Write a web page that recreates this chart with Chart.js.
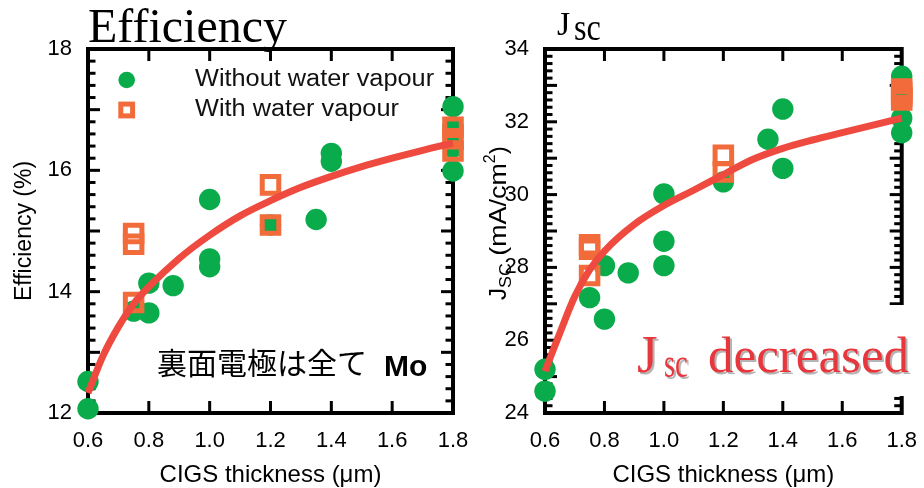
<!DOCTYPE html>
<html>
<head>
<meta charset="utf-8">
<title>CIGS thickness</title>
<script src="https://cdn.jsdelivr.net/npm/chart.js@4.4.0/dist/chart.umd.min.js"></script>
<style>
  html, body { margin: 0; padding: 0; background: #fff; }
  #wrap { position: relative; width: 924px; height: 488px; overflow: hidden; }
  canvas { position: absolute; top: 0; }
  #effChart { left: 0; }
  #jscChart { left: 462px; }
</style>
</head>
<body>
<div id="wrap">
  <canvas id="effChart" width="480" height="488"></canvas>
  <canvas id="jscChart" width="462" height="488"></canvas>
</div>
<script>
// Tick labels
const xTickValues = [0.6, 0.8, 1.0, 1.2, 1.4, 1.6, 1.8];
const effTickValues = [12, 14, 16, 18];
const jscTickValues = [24, 26, 28, 30, 32, 34];

// Efficiency, without water vapour
const effDryX = [0.6, 0.6, 0.75, 0.8, 0.8, 0.88, 1.0, 1.0, 1.0, 1.2, 1.35, 1.4, 1.4, 1.8, 1.8, 1.8, 1.8];
const effDryY = [12.52, 12.07, 13.68, 14.14, 13.65, 14.1, 15.52, 14.54, 14.41, 15.1, 15.19, 16.28, 16.15, 17.05, 16.72, 16.38, 15.99];
// Efficiency, with water vapour
const effWetX = [0.75, 0.75, 0.75, 1.2, 1.2, 1.8, 1.8, 1.8];
const effWetY = [14.96, 14.78, 13.82, 15.76, 15.1, 16.71, 16.52, 16.32];

// Jsc, without water vapour
const jscDryX = [0.6, 0.6, 0.75, 0.8, 0.8, 0.88, 1.0, 1.0, 1.0, 1.2, 1.35, 1.4, 1.4, 1.8, 1.8, 1.8, 1.8];
const jscDryY = [25.2, 24.6, 27.17, 28.05, 26.58, 27.85, 30.02, 28.72, 28.05, 30.35, 31.52, 32.35, 30.72, 33.25, 32.85, 32.1, 31.7];
// Jsc, with water vapour
const jscWetX = [0.75, 0.75, 0.75, 1.2, 1.2, 1.8, 1.8, 1.8, 1.8];
const jscWetY = [28.62, 28.5, 27.78, 31.08, 30.62, 32.9, 32.8, 32.7, 32.6];

// Fitted trend curves
const fitX = [0.6, 0.65, 0.7, 0.75, 0.8, 0.9, 1.0, 1.1, 1.2, 1.3, 1.4, 1.5, 1.6, 1.7, 1.8];
const effFitY = [12.33, 12.95, 13.42, 13.8, 14.08, 14.55, 14.93, 15.25, 15.5, 15.72, 15.9, 16.06, 16.2, 16.33, 16.45];
const jscFitY = [25.15, 26.2, 27.2, 27.93, 28.45, 29.18, 29.7, 30.12, 30.55, 30.97, 31.27, 31.5, 31.7, 31.9, 32.1];

const GREEN = '#0aab4b';
const ORANGE = '#f26b3a';
const RED = '#ee4a3f';
const SANS = '"Liberation Sans", Arial, sans-serif';
const SERIF = '"Liberation Serif", "Times New Roman", serif';

Chart.defaults.font.family = SANS;
Chart.defaults.color = '#000';

function pts(xs, ys) {
  return xs.map((x, i) => ({ x: x, y: ys[i] }));
}

// Box frame with inward ticks on all four sides
const frameTicks = {
  id: 'frameTicks',
  beforeDatasetsDraw(chart, args, opts) {
    const { ctx, chartArea: a } = chart;
    const xs = chart.scales.x, ys = chart.scales.y;
    const seg = (x1, y1, x2, y2) => { ctx.beginPath(); ctx.moveTo(x1, y1); ctx.lineTo(x2, y2); ctx.stroke(); };
    ctx.save();
    ctx.strokeStyle = '#000';
    ctx.lineWidth = 3;
    xTickValues.forEach(v => {
      if (v <= xs.min + 1e-9 || v >= xs.max - 1e-9) return;
      const px = xs.getPixelForValue(v);
      seg(px, a.bottom, px, a.bottom - 12);
      seg(px, a.top, px, a.top + 12);
    });
    const n = Math.round((ys.max - ys.min) / opts.minor);
    for (let i = 1; i < n; i++) {
      const v = ys.min + i * opts.minor;
      const len = Math.abs(v - Math.round(v)) < 1e-6 ? 12 : 7.5;
      const py = ys.getPixelForValue(v);
      seg(a.left, py, a.left + len, py);
      seg(a.right, py, a.right - len, py);
    }
    ctx.lineWidth = 4;
    ctx.strokeRect(a.left, a.top, a.right - a.left, a.bottom - a.top);
    ctx.restore();
  }
};

function xScale() {
  return {
    type: 'linear',
    min: 0.6,
    max: 1.8,
    afterBuildTicks: s => { s.ticks = xTickValues.map(v => ({ value: v })); },
    afterFit: s => { s.height = 75; },
    grid: { display: false },
    border: { display: false },
    ticks: { font: { size: 22 }, padding: 7, autoSkip: false, maxRotation: 0, callback: v => v.toFixed(1) },
    title: { display: true, text: 'CIGS thickness (\u03bcm)', font: { size: 24 }, padding: { top: 0, bottom: -2 } }
  };
}

function scatterSets(dryX, dryY, wetX, wetY, fitY) {
  return [
    {
      label: 'fit',
      data: pts(fitX, fitY),
      showLine: true,
      borderColor: RED,
      borderWidth: 7,
      pointRadius: 0,
      cubicInterpolationMode: 'monotone',
      clip: false,
      order: 0
    },
    {
      label: 'With water vapour',
      data: pts(wetX, wetY),
      pointStyle: 'rect',
      pointRadius: 11.7,
      borderWidth: 5,
      borderColor: ORANGE,
      backgroundColor: 'rgba(0,0,0,0)',
      clip: false,
      order: 1
    },
    {
      label: 'Without water vapour',
      data: pts(dryX, dryY),
      pointStyle: 'circle',
      pointRadius: 10.7,
      borderWidth: 0,
      backgroundColor: GREEN,
      clip: false,
      order: 2
    }
  ];
}

// text drawn a little wider than the font, like the original figure
function wideText(ctx, txt, x, y, sx) {
  ctx.save();
  ctx.translate(x, y);
  ctx.scale(sx, 1);
  ctx.fillText(txt, 0, 0);
  ctx.restore();
}

// Left chart: Efficiency
const effNotes = {
  id: 'effNotes',
  afterDraw(chart) {
    const ctx = chart.ctx;
    ctx.save();
    ctx.fillStyle = '#000';
    ctx.textBaseline = 'alphabetic';
    ctx.textAlign = 'left';
    ctx.font = '48px ' + SERIF;
    ctx.fillText('Efficiency', 88, 42);

    // legend
    ctx.fillStyle = GREEN;
    ctx.beginPath();
    ctx.arc(126.7, 80, 8.3, 0, Math.PI * 2);
    ctx.fill();
    ctx.strokeStyle = ORANGE;
    ctx.lineWidth = 5;
    ctx.strokeRect(126.7 - 5.9, 110 - 5.9, 11.8, 11.8);
    ctx.fillStyle = '#111';
    ctx.textBaseline = 'middle';
    ctx.font = '23px ' + SANS;
    wideText(ctx, 'Without water vapour', 195, 80, 1.1);
    wideText(ctx, 'With water vapour', 195, 110, 1.1);

    // note
    ctx.textBaseline = 'alphabetic';
    ctx.font = '30px "Noto Sans CJK JP", sans-serif';
    ctx.fillStyle = '#000';
    ctx.fillText('裏面電極は全て', 157, 374);
    ctx.font = 'bold 30px ' + SANS;
    ctx.fillText('Mo', 384, 376);
    ctx.restore();
  }
};

new Chart(document.getElementById('effChart'), {
  type: 'scatter',
  data: { datasets: scatterSets(effDryX, effDryY, effWetX, effWetY, effFitY) },
  options: {
    responsive: false,
    animation: false,
    events: [],
    layout: { padding: { top: 49, right: 27, left: 0, bottom: 0 } },
    plugins: { legend: { display: false }, tooltip: { enabled: false }, frameTicks: { minor: 0.2 } },
    scales: {
      x: xScale(),
      y: {
        type: 'linear',
        min: 12,
        max: 18,
        afterBuildTicks: s => { s.ticks = effTickValues.map(v => ({ value: v })); },
        afterFit: s => { s.width = 88; },
        grid: { display: false },
        border: { display: false },
        ticks: { font: { size: 22 }, padding: 8 },
        title: { display: true, text: 'Efficiency (%)', font: { size: 23 }, padding: { top: 11, bottom: 0 } }
      }
    }
  },
  plugins: [frameTicks, effNotes]
});

// Right chart: Jsc
function drawJsc(ctx, jx, jy, jSize, sx, sy, sSize, sScale) {
  ctx.font = jSize + 'px ' + SERIF;
  ctx.fillText('J', jx, jy);
  ctx.font = sSize + 'px ' + SERIF;
  wideText(ctx, 'sc', sx, sy, sScale);
}

const jscNotes = {
  id: 'jscNotes',
  afterDraw(chart) {
    const ctx = chart.ctx;
    ctx.save();
    ctx.textAlign = 'left';
    ctx.textBaseline = 'alphabetic';
    ctx.fillStyle = '#000';
    drawJsc(ctx, 95, 35, 34, 112, 40, 38, 0.85);

    // rotated axis title J_SC (mA/cm^2)
    ctx.save();
    ctx.translate(44, 300);
    ctx.rotate(-Math.PI / 2);
    let p = 0;
    const put = (txt, size, dy, sx) => {
      ctx.font = size + 'px ' + SANS;
      wideText(ctx, txt, p, dy, sx);
      p += ctx.measureText(txt).width * sx;
    };
    put('J', 24, 0, 1);
    put('SC', 17, 5, 1.05);
    put(' (mA/cm', 24, 0, 1.12);
    put('2', 16, -11, 1);
    put(')', 24, 0, 1);
    ctx.restore();

    // text box
    ctx.fillStyle = '#fff';
    ctx.fillRect(168, 305, 290, 91);
    const red = (dx, dy, col) => {
      ctx.fillStyle = col;
      drawJsc(ctx, 175 + dx, 372 + dy, 53, 202 + dx, 377 + dy, 42, 0.68);
      ctx.font = '51px ' + SERIF;
      ctx.fillText('decreased', 246 + dx, 372 + dy);
    };
    red(2, 2, '#b4b4b4');
    red(0, 0, '#e8363d');
    ctx.restore();
  }
};

new Chart(document.getElementById('jscChart'), {
  type: 'scatter',
  data: { datasets: scatterSets(jscDryX, jscDryY, jscWetX, jscWetY, jscFitY) },
  options: {
    responsive: false,
    animation: false,
    events: [],
    layout: { padding: { top: 49, right: 16, left: 0, bottom: 0 } },
    plugins: { legend: { display: false }, tooltip: { enabled: false }, frameTicks: { minor: 0.2 } },
    scales: {
      x: xScale(),
      y: {
        type: 'linear',
        min: 24,
        max: 34,
        afterBuildTicks: s => { s.ticks = jscTickValues.map(v => ({ value: v })); },
        afterFit: s => { s.width = 83; },
        grid: { display: false },
        border: { display: false },
        ticks: { font: { size: 22 }, padding: 8 },
        title: { display: false }
      }
    }
  },
  plugins: [frameTicks, jscNotes]
});
</script>
</body>
</html>
